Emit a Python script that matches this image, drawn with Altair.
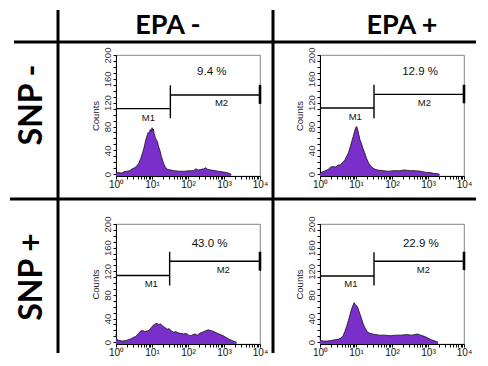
import altair as alt
import pandas as pd

# ---------------- data ----------------
# histogram outlines: log10(fluorescence) and counts, one pair per panel
p1_logx = [0.00, 0.08, 0.15, 0.22, 0.30, 0.38, 0.45, 0.52, 0.58, 0.64, 0.69, 0.74, 0.78, 0.82, 0.86, 0.89, 0.92, 0.95, 0.98, 1.00, 1.02, 1.04, 1.06, 1.09, 1.12, 1.15, 1.18, 1.22, 1.26, 1.30, 1.34, 1.38, 1.44, 1.52, 1.62, 1.75, 1.90, 2.05, 2.15, 2.22, 2.28, 2.36, 2.44, 2.49, 2.55, 2.65, 2.75, 2.85, 2.95, 3.05, 3.12, 3.20]
p1_cnt = [2, 3, 2, 4, 5, 6, 9, 11, 14, 19, 27, 36, 45, 56, 64, 70, 68, 75, 72, 78, 74, 76, 68, 62, 58, 55, 47, 40, 30, 22, 16, 11, 8, 7, 6, 5, 5, 6, 6, 9, 7, 8, 9, 11, 8, 7, 6, 5, 4, 3, 2, 0]

p2_logx = [0.00, 0.08, 0.15, 0.22, 0.30, 0.36, 0.42, 0.50, 0.57, 0.63, 0.69, 0.74, 0.79, 0.84, 0.88, 0.92, 0.96, 0.99, 1.02, 1.05, 1.08, 1.11, 1.15, 1.19, 1.24, 1.29, 1.35, 1.42, 1.50, 1.60, 1.75, 1.90, 2.05, 2.20, 2.35, 2.50, 2.65, 2.80, 2.95, 3.05, 3.15, 3.25, 3.32]
p2_cnt = [2, 4, 6, 8, 12, 13, 12, 15, 16, 20, 24, 30, 36, 46, 55, 63, 72, 78, 80, 74, 66, 58, 52, 44, 36, 27, 19, 13, 9, 7, 6, 5, 6, 6, 7, 6, 6, 5, 3, 3, 1.5, 1, 0]

p3_logx = [0.00, 0.02, 0.08, 0.18, 0.28, 0.38, 0.48, 0.55, 0.62, 0.68, 0.74, 0.80, 0.86, 0.92, 0.98, 1.04, 1.09, 1.14, 1.19, 1.24, 1.30, 1.36, 1.42, 1.48, 1.54, 1.60, 1.66, 1.72, 1.80, 1.88, 1.95, 2.02, 2.08, 2.14, 2.20, 2.26, 2.32, 2.40, 2.48, 2.56, 2.62, 2.68, 2.75, 2.82, 2.90, 2.98, 3.06, 3.14, 3.22, 3.30, 3.35]
p3_cnt = [14, 5, 3, 2, 3, 5, 8, 10, 14, 19, 20, 18, 19, 20, 25, 29, 31, 32, 30, 31, 27, 25, 22, 23, 19, 17, 18, 16, 15, 14, 15, 12, 11, 13, 14, 12, 15, 17, 19, 21, 20, 19, 17, 15, 13, 11, 8, 5, 3, 1, 0]

p4_logx = [0.00, 0.02, 0.10, 0.20, 0.30, 0.40, 0.50, 0.58, 0.64, 0.69, 0.74, 0.79, 0.84, 0.88, 0.92, 0.95, 0.98, 1.01, 1.04, 1.08, 1.12, 1.16, 1.20, 1.25, 1.31, 1.38, 1.46, 1.55, 1.65, 1.80, 1.95, 2.10, 2.25, 2.40, 2.55, 2.70, 2.80, 2.90, 3.00, 3.10, 3.20, 3.28]
p4_cnt = [8, 3, 2, 2, 3, 4, 5, 7, 11, 18, 27, 37, 48, 57, 63, 67, 64, 62, 60, 53, 46, 39, 31, 24, 18, 15, 14, 13, 12, 12, 11, 12, 12, 13, 12, 14, 12, 10, 7, 4, 2, 0]

col_headers = ["EPA -", "EPA +"]
row_headers = ["SNP -", "SNP +"]
pct_labels = ["9.4 %", "12.9 %", "43.0 %", "22.9 %"]

# marker gates (log10 of M1/M2 boundary, counts of the bars)
gate_log = [1.51, 1.50, 1.49, 1.50]
m1_level = [110, 111, 113, 112]
m2_level = [133, 134, 137, 137]
gate_lo = [94, 94, 96, 96]
gate_hi = [149, 150, 153, 152]
end_lo = [118, 119, 121, 122]
end_hi = [150, 150, 153, 153]
pct_at = [(2.66, 172), (2.78, 171), (2.60, 167), (2.80, 167)]
m1_at = [(0.90, 95), (0.98, 96), (0.98, 98), (0.86, 99)]
m2_at = [(2.93, 120), (2.90, 119), (2.98, 123), (2.87, 123)]

x_major = [1, 10, 100, 1000, 10000]
x_major_text = ["10⁰", "10¹", "10²", "10³", "10⁴"]
y_ticks = list(range(0, 201, 10))

# ---------------- chart ----------------
FILL = "#7A2FCB"
AXFONT = "Liberation Sans"
HEADFONT = "Lato"

x_minor = [m * 10 ** k for k in range(4) for m in range(2, 10)]
label_expr = " : ".join(
    f"datum.value == {v} ? '{t}'" for v, t in zip(x_major, x_major_text)
) + " : ''"

xs = alt.Scale(type="log", domain=[1, 10000], nice=False)
ys = alt.Scale(domain=[-3, 200], nice=False, zero=False)

x_axis = alt.Axis(values=x_major + x_minor, labelExpr=label_expr, title=None,
                  grid=False, tickSize=3, labelPadding=0, labelFontSize=10,
                  labelFont=AXFONT, labelColor="#111", labelOverlap=False,
                  labelFlush=False, domainColor="#000", tickColor="#000",
                  labelBaseline="top")
y_axis = alt.Axis(values=y_ticks, labelExpr="datum.value % 40 == 0 ? datum.label : ''",
                  title="Counts", titleFontSize=9.5, titleFontWeight="normal",
                  titleFont=AXFONT, titleColor="#222", titlePadding=2,
                  grid=False, tickSize=3, labelAngle=270, labelAlign="center",
                  labelBaseline="bottom", labelPadding=1, labelFontSize=9.5,
                  labelFont=AXFONT, labelColor="#333", labelOverlap=False,
                  labelFlush=False, domainColor="#000", tickColor="#000")


def X(field="x"):
    return alt.X(f"{field}:Q", scale=xs, axis=x_axis)


def Y(field="y"):
    return alt.Y(f"{field}:Q", scale=ys, axis=y_axis)


def panel(i, logx, cnt, w, h, deco=False):
    hist = pd.DataFrame({"x": [10 ** v for v in logx], "y": cnt})
    g = 10 ** gate_log[i]
    bars = pd.DataFrame({
        "x": [1, g, g],
        "x2": [g, 10000, g],
        "y": [m1_level[i], m2_level[i], gate_lo[i]],
        "y2": [m1_level[i], m2_level[i], gate_hi[i]],
    })
    endbar = pd.DataFrame({"x": [10000], "y": [end_lo[i]], "y2": [end_hi[i]]})
    pct = pd.DataFrame({"x": [10 ** pct_at[i][0]], "y": [pct_at[i][1]], "t": [pct_labels[i]]})
    mlab = pd.DataFrame({"x": [10 ** m1_at[i][0], 10 ** m2_at[i][0]],
                         "y": [m1_at[i][1], m2_at[i][1]], "t": ["M1", "M2"]})

    area = alt.Chart(hist).mark_area(
        color=FILL, opacity=1, interpolate="linear",
        line={"color": "#000", "strokeWidth": 0.7},
    ).encode(x=X(), y=Y(), y2=alt.datum(-3))
    rules = alt.Chart(bars).mark_rule(color="#000", strokeWidth=1.4).encode(
        x=X(), x2="x2:Q", y=Y(), y2="y2:Q")
    endr = alt.Chart(endbar).mark_rule(color="#000", strokeWidth=2.6).encode(
        x=X(), y=Y(), y2="y2:Q")
    t1 = alt.Chart(pct).mark_text(font=AXFONT, fontSize=11.5, color="#111",
                                  baseline="middle").encode(x=X(), y=Y(), text="t:N")
    t2 = alt.Chart(mlab).mark_text(font=AXFONT, fontSize=9.5, color="#111",
                                   baseline="middle").encode(x=X(), y=Y(), text="t:N")
    layers = [area, rules, endr, t1, t2]

    if deco:
        one = pd.DataFrame({"a": [1]})
        ox, oy = 117, 56  # page position of this panel's plot origin

        def vline(px, y0, y1):
            return alt.Chart(one).mark_rule(color="#000", strokeWidth=3).encode(
                x=alt.value(px - ox), y=alt.value(y0 - oy), y2=alt.value(y1 - oy))

        def hline(py, x0, x1):
            return alt.Chart(one).mark_rule(color="#000", strokeWidth=3).encode(
                y=alt.value(py - oy), x=alt.value(x0 - ox), x2=alt.value(x1 - ox))

        def head(txt, px, py, size, ang=0):
            return alt.Chart(one).mark_text(
                text=txt, font=HEADFONT, fontWeight="bold", fontSize=size,
                color="#000", angle=ang, align="center", baseline="middle"
            ).encode(x=alt.value(px - ox), y=alt.value(py - oy))

        layers += [
            vline(59, 11, 354), vline(274, 11, 354),
            hline(43, 15, 477), hline(200, 11, 477),
            head(col_headers[0], 169, 27, 27), head(col_headers[1], 403, 27, 27),
            head(row_headers[0], 33, 106, 32, 270), head(row_headers[1], 33, 278, 32, 270),
        ]

    return alt.layer(*layers).properties(width=w, height=h)


chart = alt.concat(
    panel(0, p1_logx, p1_cnt, 144, 121, deco=True),
    panel(1, p2_logx, p2_cnt, 144, 121),
    panel(2, p3_logx, p3_cnt, 144, 120),
    panel(3, p4_logx, p4_cnt, 144, 120),
    columns=2, spacing={"row": 48, "column": 60}, bounds="flush",
).properties(padding=0, background="white").configure_view(stroke="#666", strokeWidth=0.8)

chart.save("out.html", embed_options={"renderer": "svg", "actions": False})
